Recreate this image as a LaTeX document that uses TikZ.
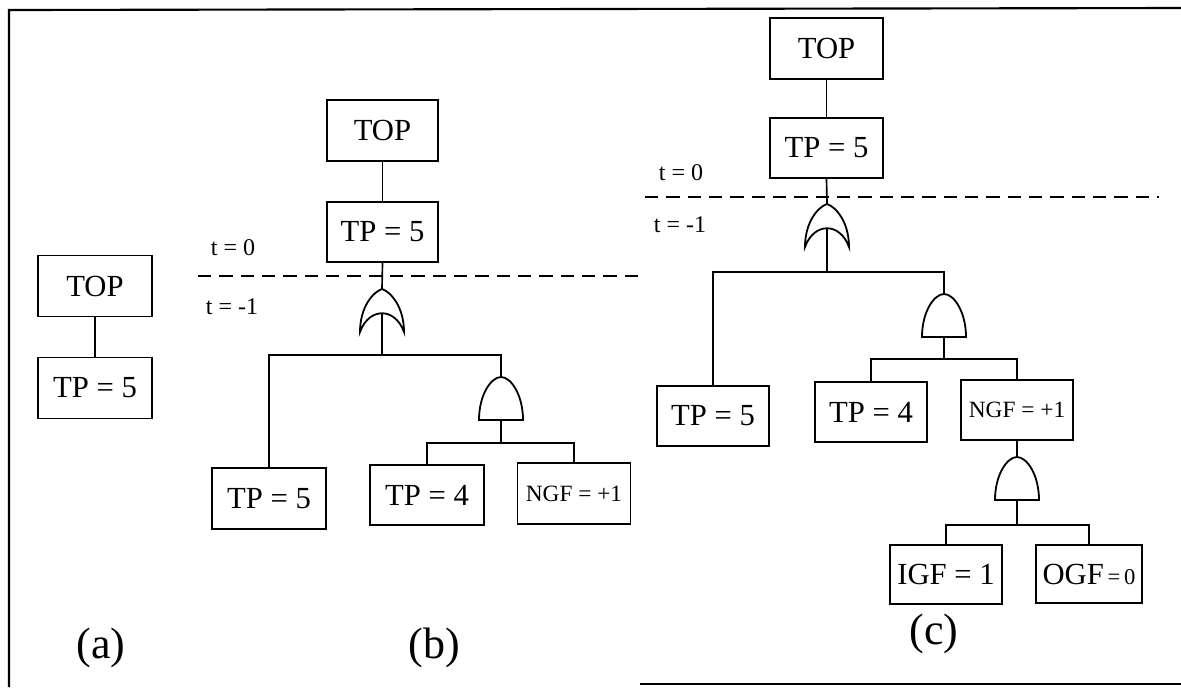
\documentclass[tikz,border=0pt]{standalone}
\usepackage{fontspec}
\setmainfont{Liberation Serif}
\begin{document}
\begin{tikzpicture}[x=0.75pt,y=-0.75pt,
  bx/.style={draw,line width=1.35pt,inner sep=0pt,minimum width=113*0.75pt,minimum height=60*0.75pt,font=\fontsize{23}{25}\selectfont},
  bw/.style={minimum width=#1*0.75pt},
  bh/.style={minimum height=#1*0.75pt},
  ln/.style={line width=1.25pt},
  gate/.style={line width=1.35pt},
  tline/.style={line width=1.3pt,dash pattern=on 10pt off 6pt},
  tlab/.style={font=\fontsize{18}{20}\selectfont,inner sep=0pt},
  sublab/.style={font=\fontsize{33}{36}\selectfont,inner sep=0pt},
  orgate/.pic={\draw[gate] (-22,43) .. controls (-22,18) and (-9,3) .. (0,0) .. controls (9,3) and (22,18) .. (22,43) .. controls (13,18) and (-13,18) .. cycle;},
  andgate/.pic={\draw[gate] (-22,43) .. controls (-22,18) and (-10,0) .. (0,0) .. controls (10,0) and (22,18) .. (22,43) -- cycle;}
]
\useasboundingbox (0,0) rectangle (1181,687);
% frame
\coordinate (f1) at (9,687);
\coordinate (f2) at (9,10);
\coordinate (f3) at (1181,8);
\coordinate (f4) at (640,684);
\coordinate (f5) at (1181,684);
\draw[line width=1.6pt] (f1) -- (f2) -- (f3);
\draw[line width=1.6pt] (f4) -- (f5);

% ---------- (a)
\node[bx,bw=114,bh=61] (aTOP) at (95,286) {TOP};
\node[bx,bw=114,bh=61] (aTP) at (95,388) {TP = 5};
\draw[ln] (aTOP.south) -- (aTP.north);

% ---------- (b)
\node[bx,bw=111,bh=61] (bTOP) at (382.5,130.5) {TOP};
\node[bx,bw=111,bh=60] (bTP) at (382.5,232) {TP = 5};
\draw[ln] (bTOP.south) -- (bTP.north);
\coordinate (bd1) at (198,276);
\coordinate (bd2) at (638,276);
\draw[tline] (bd1) -- (bd2);
\node[tlab] (bt0) at (233,248) {t = 0};
\node[tlab] (bt1) at (232,307) {t = -1};
\coordinate (bOR) at (382,289);
\coordinate (bORin) at (382,313);
\pic at (bOR) {orgate};
\draw[ln] (bTP.south) -- (bOR);
\coordinate (bJ1) at (382,355);
\draw[ln] (bORin) -- (bJ1);
\node[bx,bw=114,bh=61] (bL) at (269,498.5) {TP = 5};
\coordinate (bAND) at (501,377);
\coordinate (bANDb) at (501,420);
\pic at (bAND) {andgate};
\draw[ln] (bL.north) |- (bJ1) -| (bAND);
\coordinate (bJ2) at (501,443);
\draw[ln] (bANDb) -- (bJ2);
\node[bx,bw=114,bh=60] (bTP4) at (427,495) {TP = 4};
\node[bx,bw=113,bh=61,font=\fontsize{17.5}{19}\selectfont] (bNGF) at (574,493.5) {NGF = +1};
\draw[ln] (bTP4.north) |- (bJ2) -| (bNGF.north);

% ---------- (c)
\node[bx,bw=113,bh=61] (cTOP) at (826.5,48.5) {TOP};
\node[bx,bw=113,bh=60] (cTP) at (826.5,148) {TP = 5};
\draw[ln] (cTOP.south) -- (cTP.north);
\coordinate (cd1) at (645,197);
\coordinate (cd2) at (1159,197);
\draw[tline] (cd1) -- (cd2);
\node[tlab] (ct0) at (681,173) {t = 0};
\node[tlab] (ct1) at (680,225) {t = -1};
\coordinate (cOR) at (827,204);
\coordinate (cORin) at (827,228);
\pic at (cOR) {orgate};
\draw[ln] (cTP.south) -- (cOR);
\coordinate (cJ1) at (827,272);
\draw[ln] (cORin) -- (cJ1);
\node[bx,bw=112,bh=60] (cL) at (713,416) {TP = 5};
\coordinate (cAND1) at (944,294);
\coordinate (cAND1b) at (944,337);
\pic at (cAND1) {andgate};
\draw[ln] (cL.north) |- (cJ1) -| (cAND1);
\coordinate (cJ2) at (944,359);
\draw[ln] (cAND1b) -- (cJ2);
\node[bx,bw=112,bh=60] (cTP4) at (871,412) {TP = 4};
\node[bx,bw=112,bh=60,font=\fontsize{17.5}{19}\selectfont] (cNGF) at (1017,410) {NGF = +1};
\draw[ln] (cTP4.north) |- (cJ2) -| (cNGF.north);
\coordinate (cAND2) at (1017,457);
\coordinate (cAND2b) at (1017,500);
\pic at (cAND2) {andgate};
\draw[ln] (cNGF.south) -- (cAND2);
\coordinate (cJ3) at (1017,525);
\draw[ln] (cAND2b) -- (cJ3);
\node[bx,bw=112,bh=59] (cIGF) at (946,574.5) {IGF = 1};
\node[bx,bw=106,bh=58] (cOGF) at (1089,574) {OGF{\fontsize{17}{19}\selectfont\,=\,0}};
\draw[ln] (cIGF.north) |- (cJ3) -| (cOGF.north);

% labels
\node[sublab] (la) at (101,648) {(a)};
\node[sublab] (lb) at (434,648) {(b)};
\node[sublab] (lc) at (934,634) {(c)};
\end{tikzpicture}
\end{document}
